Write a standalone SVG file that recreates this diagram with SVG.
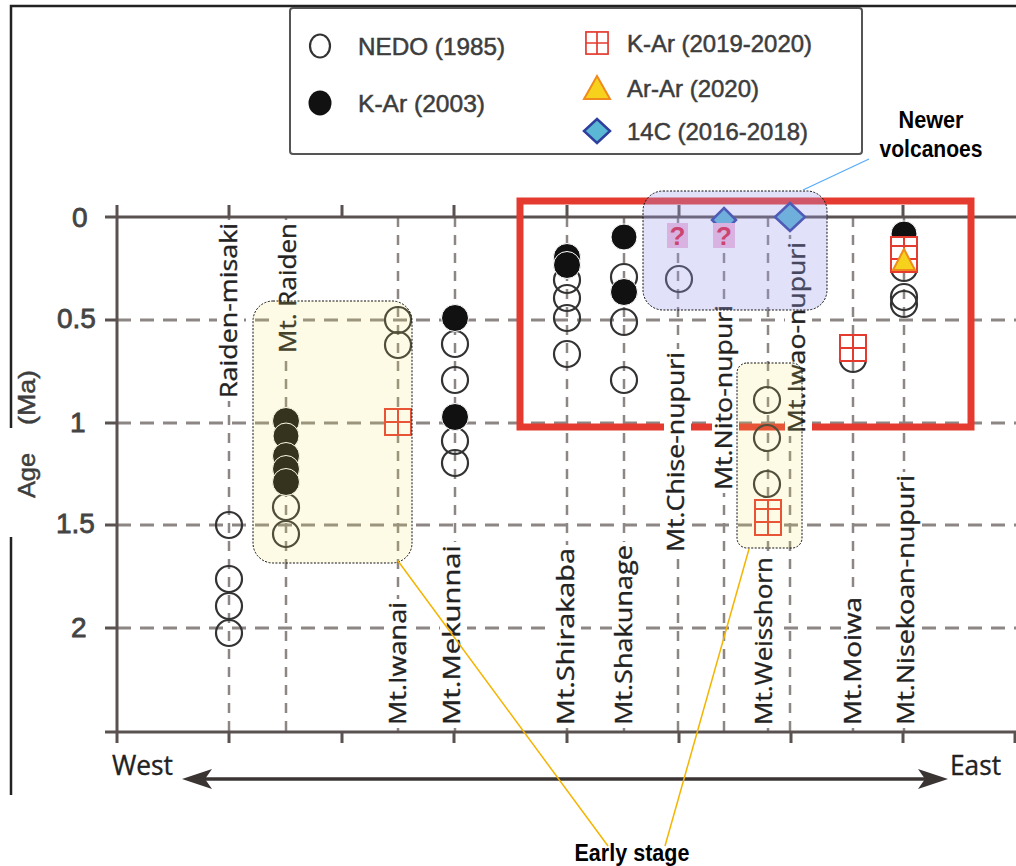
<svg xmlns="http://www.w3.org/2000/svg" width="1016" height="866" viewBox="0 0 1016 866">
<style>
.frame{stroke:#222;stroke-width:2.5;fill:none}
.axis{stroke:#5a5250;stroke-width:3;fill:none}
.hgrid{stroke:#8c8684;stroke-width:3;stroke-dasharray:14 9;fill:none}
.vgrid{stroke:#8c8684;stroke-width:2.5;stroke-dasharray:10 8;fill:none}
.tick{font-family:"Liberation Sans",Arial,sans-serif;font-size:28px;fill:#444;stroke:#444;stroke-width:0.8}
.lab{font-family:"Open Sans","DejaVu Sans",sans-serif;font-size:24px;fill:#222;stroke:#222;stroke-width:0.35}
.lbg{fill:#fff}
.leg{font-family:"Liberation Sans",Arial,sans-serif;font-size:24px;fill:#3d3d3d;stroke:#3d3d3d;stroke-width:0.5}
.ann{font-family:"Liberation Sans",Arial,sans-serif;font-size:23px;font-weight:bold;fill:#000}
.open{fill:none;stroke:#333;stroke-width:2.2}
.fill{fill:#111;stroke:#fff;stroke-width:1}
.sq{fill:#fff;stroke:#e53a2f;stroke-width:2}
.sqg{stroke:#e53a2f;stroke-width:2;fill:none}
.tri{fill:#f7d21c;stroke:#f08a1c;stroke-width:2}
.dia{fill:#5bb8d4;stroke:#2e3f9e;stroke-width:2.5}
.qbox{fill:#f3bedc}
.q{font-family:"Liberation Sans",Arial,sans-serif;font-size:26px;font-weight:bold;fill:#e0203a}
.hl{stroke:#111;stroke-width:1;stroke-dasharray:2 1.5}
</style>
<defs>
<g id="sqm"><rect class="sq" x="-13" y="-13" width="26" height="26"/><path class="sqg" d="M0-13V13M-13 0H13"/></g>
</defs>
<rect width="1016" height="866" fill="#fff"/>
<g id="frame">
<path class="frame" d="M11 795V537M11 428V6H1016"/>
</g>
<g id="legend">
<rect x="290" y="8" width="572" height="146" rx="3" fill="#fff" stroke="#555" stroke-width="2"/>
<ellipse class="open" cx="320" cy="46" rx="10" ry="11.5"/>
<text class="leg" x="358" y="55" textLength="147" lengthAdjust="spacingAndGlyphs">NEDO (1985)</text>
<ellipse cx="320" cy="103" rx="11.5" ry="12.5" fill="#111"/>
<text class="leg" x="358" y="112" textLength="127" lengthAdjust="spacingAndGlyphs">K-Ar (2003)</text>
<use href="#sqm" transform="translate(597,43) scale(0.85)"/>
<text class="leg" x="627" y="52" textLength="185" lengthAdjust="spacingAndGlyphs">K-Ar (2019-2020)</text>
<polygon class="tri" points="597,76 610,99 584,99"/>
<text class="leg" x="627" y="97" textLength="132" lengthAdjust="spacingAndGlyphs">Ar-Ar (2020)</text>
<polygon class="dia" points="597,119 610,131 597,143 584,131"/>
<text class="leg" x="627" y="140" textLength="181" lengthAdjust="spacingAndGlyphs">14C (2016-2018)</text>
</g>
<g id="grid">
<path class="hgrid" d="M117 320H1016M117 423H1016M117 525H1016M117 628H1016"/>
<path class="vgrid" d="M229 217V732M286 217V732M398 217V732M455 217V732M567 217V732M624 217V732M678 217V732M724 217V732M768 217V732M790 217V732M853 217V732M904 217V732"/>
</g>
<g id="axes">
<path class="axis" d="M117 205V743M105 217H1016M105 732H1016M105 320H117M105 423H117M105 525H117M105 628H117"/>
<path class="axis" d="M229 205V217M342 205V217M454 205V217M567 205V217M679 205V217M791 205V217M903 205V217"/>
<path class="axis" d="M229 732V743M342 732V743M454 732V743M567 732V743M679 732V743M791 732V743M903 732V743M1015 732V743"/>
<text class="tick" x="72" y="227">0</text>
<text class="tick" x="57" y="328">0.5</text>
<text class="tick" x="70" y="432">1</text>
<text class="tick" x="56" y="533">1.5</text>
<text class="tick" x="71" y="637">2</text>
<text class="leg" transform="translate(35,498) rotate(-90)" textLength="45" lengthAdjust="spacingAndGlyphs">Age</text>
<text class="leg" transform="translate(35,425) rotate(-90)" textLength="55" lengthAdjust="spacingAndGlyphs">(Ma)</text>
</g>
<g id="newer-frame">
<rect x="520" y="201" width="451" height="226" fill="none" stroke="#e53a2f" stroke-width="7"/>
</g>
<g id="labels">
<g transform="translate(237,398) rotate(-90)"><rect class="lbg" x="-3" y="-20" width="181" height="27"/><text class="lab" textLength="175" lengthAdjust="spacingAndGlyphs">Raiden-misaki</text></g>
<g transform="translate(296,353) rotate(-90)"><rect class="lbg" x="-3" y="-20" width="136" height="27"/><text class="lab" textLength="130" lengthAdjust="spacingAndGlyphs">Mt. Raiden</text></g>
<g transform="translate(406,725) rotate(-90)"><rect class="lbg" x="-3" y="-20" width="129" height="27"/><text class="lab" textLength="123" lengthAdjust="spacingAndGlyphs">Mt.Iwanai</text></g>
<g transform="translate(460,725) rotate(-90)"><rect class="lbg" x="-3" y="-20" width="186" height="27"/><text class="lab" textLength="180" lengthAdjust="spacingAndGlyphs">Mt.Mekunnai</text></g>
<g transform="translate(574,725) rotate(-90)"><rect class="lbg" x="-3" y="-20" width="183" height="27"/><text class="lab" textLength="177" lengthAdjust="spacingAndGlyphs">Mt.Shirakaba</text></g>
<g transform="translate(632,725) rotate(-90)"><rect class="lbg" x="-3" y="-20" width="186" height="27"/><text class="lab" textLength="180" lengthAdjust="spacingAndGlyphs">Mt.Shakunage</text></g>
<g transform="translate(684,552) rotate(-90)"><rect class="lbg" x="-3" y="-20" width="206" height="27"/><text class="lab" textLength="200" lengthAdjust="spacingAndGlyphs">Mt.Chise-nupuri</text></g>
<g transform="translate(732,490) rotate(-90)"><rect class="lbg" x="-3" y="-20" width="191" height="27"/><text class="lab" textLength="185" lengthAdjust="spacingAndGlyphs">Mt.Nito-nupuri</text></g>
<g transform="translate(772,725) rotate(-90)"><rect class="lbg" x="-3" y="-20" width="174" height="27"/><text class="lab" textLength="168" lengthAdjust="spacingAndGlyphs">Mt.Weisshorn</text></g>
<g transform="translate(805,433) rotate(-90)"><rect class="lbg" x="-3" y="-20" width="197" height="27"/><text class="lab" textLength="191" lengthAdjust="spacingAndGlyphs">Mt.Iwao-nupuri</text></g>
<g transform="translate(861,725) rotate(-90)"><rect class="lbg" x="-3" y="-20" width="134" height="27"/><text class="lab" textLength="128" lengthAdjust="spacingAndGlyphs">Mt.Moiwa</text></g>
<g transform="translate(914,725) rotate(-90)"><rect class="lbg" x="-3" y="-20" width="256" height="27"/><text class="lab" textLength="250" lengthAdjust="spacingAndGlyphs">Mt.Nisekoan-nupuri</text></g>
</g>
<g id="data">
<g id="raiden-misaki"><circle class="open" cx="229" cy="525" r="13"/><circle class="open" cx="229" cy="579" r="13"/><circle class="open" cx="229" cy="606" r="13"/><circle class="open" cx="229" cy="633" r="13"/></g>
<g id="mt-raiden"><circle class="open" cx="286" cy="507" r="13"/><circle class="open" cx="286" cy="534" r="13"/><circle class="fill" cx="286" cy="421" r="13.5"/><circle class="fill" cx="286" cy="436" r="13"/><circle class="fill" cx="286" cy="456" r="13.5"/><circle class="fill" cx="286" cy="469" r="13.5"/><circle class="fill" cx="286" cy="482" r="13.5"/></g>
<g id="mt-iwanai"><circle class="open" cx="398" cy="320" r="13"/><circle class="open" cx="398" cy="345" r="13"/><use href="#sqm" x="398" y="422"/></g>
<g id="mt-mekunnai"><circle class="open" cx="455" cy="344" r="13"/><circle class="open" cx="455" cy="380" r="13"/><circle class="open" cx="455" cy="441" r="13"/><circle class="open" cx="455" cy="463" r="13"/><circle class="fill" cx="455" cy="318" r="13.5"/><circle class="fill" cx="455" cy="417" r="13.5"/></g>
<g id="mt-shirakaba"><circle class="open" cx="567" cy="280" r="13"/><circle class="open" cx="567" cy="298" r="13"/><circle class="open" cx="567" cy="318" r="13"/><circle class="open" cx="567" cy="354" r="13"/><circle class="fill" cx="567" cy="257" r="13.5"/><circle class="fill" cx="567" cy="265" r="13.5"/></g>
<g id="mt-shakunage"><circle class="open" cx="624" cy="277" r="13"/><circle class="open" cx="624" cy="322" r="13"/><circle class="open" cx="624" cy="380" r="13"/><circle class="fill" cx="624" cy="237" r="13"/><circle class="fill" cx="624" cy="292" r="13.5"/></g>
<g id="mt-chise"><circle class="open" cx="679" cy="279" r="13"/><rect class="qbox" x="667" y="223" width="21" height="25"/><text class="q" x="677.5" y="245" text-anchor="middle">?</text></g>
<g id="mt-nito"><polygon class="dia" points="724,208 736,220 724,232 712,220"/><rect class="qbox" x="713" y="223" width="22" height="25"/><text class="q" x="724" y="245" text-anchor="middle">?</text></g>
<g id="mt-weisshorn"><circle class="open" cx="767" cy="400" r="13"/><circle class="open" cx="767" cy="438" r="13"/><circle class="open" cx="767" cy="484" r="13"/><use href="#sqm" x="768" y="513"/><use href="#sqm" x="768" y="522"/></g>
<g id="mt-iwao"><polygon class="dia" points="790,203 805,217 790,231 775,217"/></g>
<g id="mt-moiwa"><circle class="open" cx="853" cy="359" r="13"/><use href="#sqm" x="853" y="348"/></g>
<g id="mt-nisekoan"><circle class="open" cx="904" cy="268" r="13"/><circle class="open" cx="904" cy="297" r="13"/><circle class="open" cx="904" cy="304" r="13"/><circle class="fill" cx="904" cy="234" r="13"/><use href="#sqm" x="904" y="250"/><use href="#sqm" x="904" y="259"/><polygon class="tri" points="904,249 915,270 893,270"/></g>
</g>
<g id="highlights">
<rect id="early-box-1" class="hl" x="253" y="301" width="159" height="262" rx="20" fill="#f0e860" fill-opacity="0.16"/>
<rect id="early-box-2" class="hl" x="737" y="363" width="65" height="185" rx="10" fill="#f0e860" fill-opacity="0.16"/>
<rect id="newer-box" class="hl" x="643" y="191" width="184" height="119" rx="20" fill="#9a9aee" fill-opacity="0.3"/>
</g>
<g id="direction">
<path d="M200 779H930" stroke="#3a3533" stroke-width="3.5"/>
<polygon points="182,779 212,769 205,779 212,789" fill="#3a3533"/>
<polygon points="948,779 918,769 925,779 918,789" fill="#3a3533"/>
<text class="lab" x="112" y="775" textLength="61" lengthAdjust="spacingAndGlyphs" style="font-size:27px">West</text>
<text class="lab" x="950" y="775" textLength="51" lengthAdjust="spacingAndGlyphs" style="font-size:27px">East</text>
</g>
<g id="connectors">
<line x1="869" y1="159" x2="803" y2="190" stroke="#55aaff" stroke-width="1.2"/>
<line x1="398" y1="561" x2="608" y2="846" stroke="#f5b400" stroke-width="1.5"/>
<line x1="749" y1="549" x2="665" y2="846" stroke="#f5b400" stroke-width="1.5"/>
</g>
<g id="newer-volcanoes">
<text class="ann" x="931" y="128" text-anchor="middle" textLength="65" lengthAdjust="spacingAndGlyphs">Newer</text>
<text class="ann" x="931" y="157" text-anchor="middle" textLength="103" lengthAdjust="spacingAndGlyphs">volcanoes</text>
</g>
<g id="early-stage">
<text class="ann" x="632" y="861" text-anchor="middle" textLength="115" lengthAdjust="spacingAndGlyphs">Early stage</text>
</g>
</svg>
